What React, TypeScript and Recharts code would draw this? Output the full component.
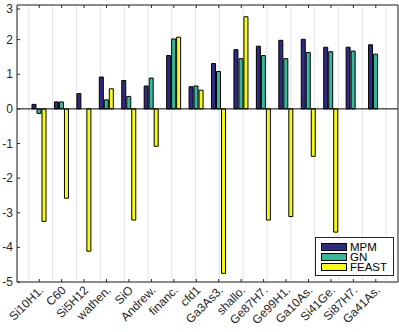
import React from "react";
import {
  BarChart,
  Bar,
  XAxis,
  YAxis,
  CartesianGrid,
  ReferenceLine,
} from "recharts";

const categories = [
  "Si10H1.", "C60", "Si5H12", "wathen.", "SiO", "Andrew.", "financ.", "cfd1",
  "Ga3As3.", "shallo.", "Ge87H7.", "Ge99H1.", "Ga10As.", "Si41Ge.", "Si87H7.", "Ga41As.",
];
const mpm = [0.13, 0.2, 0.44, 0.92, 0.82, 0.66, 1.54, 0.64, 1.31, 1.71, 1.81, 1.98, 2.01, 1.78, 1.78, 1.85];
const gn = [-0.13, 0.2, 0, 0.26, 0.36, 0.89, 2.02, 0.66, 1.08, 1.45, 1.54, 1.45, 1.63, 1.65, 1.67, 1.58];
const feast = [-3.25, -2.58, -4.11, 0.58, -3.21, -1.08, 2.07, 0.54, -4.75, 2.66, -3.21, -3.11, -1.37, -3.56, 0, 0];
const yTicks = [-5, -4, -3, -2, -1, 0, 1, 2, 3];

const data = categories.map((name, i) => ({ name, MPM: mpm[i], GN: gn[i], FEAST: feast[i] }));

const SERIES = [
  { key: "MPM", color: "#2e2a80" },
  { key: "GN", color: "#35b79a" },
  { key: "FEAST", color: "#f9fb0e" },
];

const FONT = "'Liberation Sans', Arial, sans-serif";
const AXIS = "#262626";

function BottomTick(props: any) {
  const { x, y, payload } = props;
  return (
    <g>
      <line x1={x} y1={y} x2={x} y2={y - 3} stroke={AXIS} strokeWidth={1} />
      <text
        x={x + 5}
        y={y + 9}
        transform={`rotate(-45, ${x + 5}, ${y + 9})`}
        textAnchor="end"
        fontSize={12}
        fontFamily={FONT}
        fill={AXIS}
      >
        {payload.value}
      </text>
    </g>
  );
}

function TopTick(props: any) {
  const { x, y } = props;
  return <line x1={x} y1={y} x2={x} y2={y + 3} stroke={AXIS} strokeWidth={1} />;
}

function LeftTick(props: any) {
  const { x, y, payload } = props;
  return (
    <g>
      <line x1={x} y1={y} x2={x + 3} y2={y} stroke={AXIS} strokeWidth={1} />
      <text x={x - 4} y={y + 4} textAnchor="end" fontSize={12} fontFamily={FONT} fill={AXIS}>
        {payload.value}
      </text>
    </g>
  );
}

function RightTick(props: any) {
  const { x, y } = props;
  return <line x1={x} y1={y} x2={x - 3} y2={y} stroke={AXIS} strokeWidth={1} />;
}

function LegendBox() {
  return (
    <div
      style={{
        position: "absolute",
        left: 315,
        top: 237,
        width: 70,
        background: "#fff",
        border: "1px solid #262626",
        padding: "4px 2px 3px 5px",
        fontFamily: FONT,
        fontSize: 11.5,
        color: "#000",
      }}
    >
      {SERIES.map((s) => (
        <div key={s.key} style={{ display: "flex", alignItems: "center", height: 10 }}>
          <span
            style={{
              display: "inline-block",
              width: 24,
              height: 6,
              background: s.color,
              border: "1px solid #000",
              marginRight: 3,
            }}
          />
          <span style={{ lineHeight: "9px" }}>{s.key}</span>
        </div>
      ))}
    </div>
  );
}

export default function App(): React.ReactElement {
  return (
    <div style={{ position: "absolute", left: 0, top: 0, width: 399, height: 332, background: "#fff" }}>
      <BarChart
        width={399}
        height={332}
        data={data}
        margin={{ top: 4, right: 0, left: 0, bottom: 0 }}
        barSize={4}
        barGap={1}
      >
        <CartesianGrid stroke="#e3e3e3" strokeWidth={1} />
        <XAxis
          xAxisId="bottom"
          dataKey="name"
          orientation="bottom"
          height={50}
          padding={{ left: 11, right: 11 }}
          interval={0}
          tickSize={0}
          tickMargin={0}
          tickLine={false}
          axisLine={{ stroke: AXIS }}
          tick={<BottomTick />}
        />
        <XAxis
          xAxisId="top"
          dataKey="name"
          orientation="top"
          height={1}
          padding={{ left: 11, right: 11 }}
          interval={0}
          tickSize={0}
          tickMargin={0}
          tickLine={false}
          axisLine={{ stroke: AXIS }}
          tick={<TopTick />}
        />
        <YAxis
          yAxisId="left"
          domain={[-5, 3]}
          ticks={yTicks}
          width={17}
          tickSize={0}
          tickMargin={0}
          tickLine={false}
          axisLine={{ stroke: AXIS }}
          tick={<LeftTick />}
          allowDataOverflow
        />
        <YAxis
          yAxisId="right"
          orientation="right"
          domain={[-5, 3]}
          ticks={yTicks}
          width={1}
          tickSize={0}
          tickMargin={0}
          tickLine={false}
          axisLine={{ stroke: AXIS }}
          tick={<RightTick />}
        />
        <ReferenceLine y={0} xAxisId="bottom" yAxisId="left" stroke="#000" strokeWidth={1} />
        {SERIES.map((s) => (
          <Bar
            key={s.key}
            dataKey={s.key}
            xAxisId="bottom"
            yAxisId="left"
            fill={s.color}
            stroke="#000"
            strokeWidth={1}
            isAnimationActive={false}
          />
        ))}
      </BarChart>
      <LegendBox />
    </div>
  );
}
